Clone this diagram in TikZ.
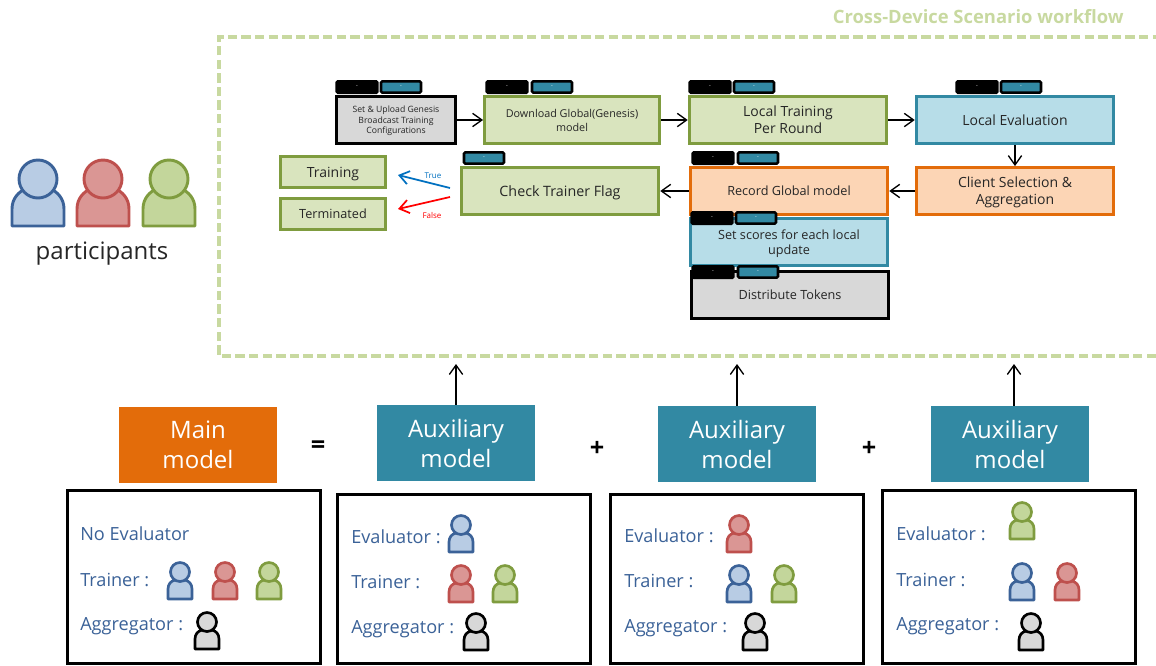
\documentclass[tikz,border=0pt]{standalone}
\usepackage{fontspec}
\setmainfont{Open Sans}
\usetikzlibrary{arrows.meta}
\definecolor{txtdark}{HTML}{262626}
\definecolor{bluetxt}{HTML}{3B6298}
\definecolor{flowgreen}{HTML}{7F9C3F}
\definecolor{fillgreen}{HTML}{D9E4BE}
\definecolor{flowteal}{HTML}{3289A3}
\definecolor{fillteal}{HTML}{B7DDE8}
\definecolor{floworange}{HTML}{E36C0A}
\definecolor{fillorange}{HTML}{FCD5B5}
\definecolor{fillgray}{HTML}{D8D8D8}
\definecolor{framegreen}{HTML}{C8D9A0}
\definecolor{personblue}{HTML}{3B6298}
\definecolor{personbluefill}{HTML}{B8CCE4}
\definecolor{personred}{HTML}{BE504D}
\definecolor{personredfill}{HTML}{DA9694}
\definecolor{persongreen}{HTML}{7F9C3F}
\definecolor{persongreenfill}{HTML}{C3D69B}
\tikzset{
	stepbox/.style={draw, line width=2.4pt, text=txtdark, align=center, inner sep=0pt, text depth=0pt, font=\fontsize{10.5}{12.5}\selectfont},
	greenbox/.style={stepbox, draw=flowgreen, fill=fillgreen},
	tealbox/.style={stepbox, draw=flowteal, fill=fillteal},
	orangebox/.style={stepbox, draw=floworange, fill=fillorange},
	graybox/.style={stepbox, draw=black, fill=fillgray},
	blacktab/.style={draw=black, fill=black, text=white, line width=1.5pt, rounded corners=1pt, minimum width=31pt, minimum height=9pt, inner sep=0pt, font=\fontsize{4}{4}\selectfont},
	tealtab/.style={blacktab, fill=flowteal, line width=1.9pt, minimum width=30pt, minimum height=8.5pt},
	flow/.style={-{Straight Barb[length=7pt,width=10pt]}, line width=1pt},
	modelbox/.style={text=white, align=center, inner sep=0pt, minimum height=57pt, font=\fontsize{18}{22.5}\selectfont},
	signtext/.style={inner sep=0pt, font=\fontsize{19}{21}\bfseries},
	rolebox/.style={draw=black, fill=white, line width=2.2pt, minimum width=190pt, inner sep=0pt},
	roletext/.style={text=bluetxt, anchor=base west, inner sep=0pt, font=\fontsize{13.6}{15}\selectfont},
	pics/person/.style 2 args={code={
		\draw[draw=#1, fill=#2, line width=2.2pt, line join=round] (-26,47) -- (-26,30) .. controls (-26,19) and (-19,13) .. (-13,10)
			-- (13,10) .. controls (19,13) and (26,19) .. (26,30) -- (26,47) -- cycle;
		\draw[draw=#1, fill=#2, line width=2.2pt] (0,0) circle (19);
	}},
	pics/smallperson/.style 2 args={code={
		\draw[draw=#1, fill=#2, line width=2pt, line join=round] (-12,27) -- (-12,17) .. controls (-12,12) and (-9,9) .. (-5,8)
			-- (5,8) .. controls (9,9) and (12,12) .. (12,17) -- (12,27) -- cycle;
		\draw[draw=#1, fill=#2, line width=2pt] (0,0) circle (9.5);
	}},
}
\begin{document}
\begin{tikzpicture}[x=0.75pt, y=-0.75pt]
	\useasboundingbox (0,0) rectangle (1156,665);
	% workflow frame
	\draw[framegreen, line width=2.8pt, dash pattern=on 7pt off 3.2pt] (1156,356) -- (219,356) -- (219,37) -- (1156,37);
	\node[text=framegreen, anchor=east, inner sep=0pt, font=\fontsize{13.8}{15}\bfseries] (frametitle) at (1124,17) {Cross-Device Scenario workflow};
	% participants
	\pic at (38,179) {person={personblue}{personbluefill}};
	\pic at (103,179) {person={personred}{personredfill}};
	\pic at (169,179) {person={persongreen}{persongreenfill}};
	\node[text=txtdark, inner sep=0pt, font=\fontsize{18}{20}\selectfont] (participants) at (102,254) {participants};
	% workflow boxes
	\node[graybox, minimum width=89pt, minimum height=35pt, font=\fontsize{6.5}{8}\selectfont] (genesis) at (396,120) {Set \& Upload Genesis\\Broadcast Training\\Configurations};
	\node[greenbox, minimum width=131pt, minimum height=35pt, font=\fontsize{8.1}{10.5}\selectfont] (download) at (572,120) {Download Global(Genesis)\\model};
	\node[greenbox, minimum width=148pt, minimum height=35pt] (training) at (788,120) {Local Training\\Per Round};
	\node[tealbox, minimum width=148pt, minimum height=35pt] (evaluation) at (1015,120) {Local Evaluation};
	\node[orangebox, minimum width=148pt, minimum height=35pt] (selection) at (1015,191) {Client Selection \&\\Aggregation};
	\node[orangebox, minimum width=148pt, minimum height=35pt, font=\fontsize{9.5}{11}\selectfont] (record) at (789,191) {Record Global model};
	\node[greenbox, minimum width=148pt, minimum height=35pt, font=\fontsize{10.7}{13}\selectfont] (flag) at (560,191) {Check Trainer Flag};
	\node[greenbox, minimum width=79pt, minimum height=23pt] (train) at (333,172) {Training};
	\node[greenbox, minimum width=79pt, minimum height=23pt, font=\fontsize{9.5}{12}\selectfont] (term) at (333,214) {Terminated};
	\node[tealbox, minimum width=148pt, minimum height=35pt, font=\fontsize{9.5}{11}\selectfont] (scores) at (789,242) {Set scores for each local\\update};
	\node[graybox, minimum width=148pt, minimum height=35pt, font=\fontsize{9.5}{11}\selectfont] (tokens) at (790,295) {Distribute Tokens};
	% tabs on the boxes
	\node[blacktab] (tabaa) at (357,87) {-};
	\node[tealtab] (tabab) at (401,87) {-};
	\node[blacktab] (tabba) at (507,87) {-};
	\node[tealtab] (tabbb) at (552,87) {-};
	\node[blacktab] (tabca) at (710,87) {-};
	\node[tealtab] (tabcb) at (754,87) {-};
	\node[blacktab] (tabda) at (977,87) {-};
	\node[tealtab] (tabdb) at (1021,87) {-};
	\node[tealtab] (tabe) at (484,158) {-};
	\node[blacktab] (tabfa) at (713,158) {-};
	\node[tealtab] (tabfb) at (758,158) {-};
	\node[blacktab] (tabga) at (712,218) {-};
	\node[tealtab] (tabgb) at (756,218) {-};
	\node[blacktab] (tabha) at (713,272) {-};
	\node[tealtab] (tabhb) at (758,272) {-};
	% flow
	\draw[flow] (genesis) -- (download);
	\draw[flow] (download) -- (training);
	\draw[flow] (training) -- (evaluation);
	\draw[flow] (evaluation) -- (selection);
	\draw[flow] (selection) -- (record);
	\draw[flow] (record) -- (flag);
	\coordinate (truefrom) at (450,188);
	\coordinate (trueto) at (398,175);
	\coordinate (falsefrom) at (450,197);
	\coordinate (falseto) at (398,209);
	\draw[flow, line width=1.3pt, draw={rgb,255:red,0;green,112;blue,192}] (truefrom) -- (trueto);
	\draw[flow, line width=1.3pt, draw=red] (falsefrom) -- (falseto);
	\node[text={rgb,255:red,0;green,112;blue,192}, inner sep=0pt, font=\fontsize{6}{7}\selectfont] (truelabel) at (433,176) {True};
	\node[text=red, inner sep=0pt, font=\fontsize{6}{7}\selectfont] (falselabel) at (432,215) {False};
	% models
	\node[modelbox, fill=floworange, minimum width=119pt] (main) at (198,445) {Main\\model};
	\node[modelbox, fill=flowteal, minimum width=119pt] (auxa) at (456,443) {Auxiliary\\model};
	\node[modelbox, fill=flowteal, minimum width=119pt] (auxb) at (737,444) {Auxiliary\\model};
	\node[modelbox, fill=flowteal, minimum width=119pt] (auxc) at (1010,444) {Auxiliary\\model};
	\node[signtext] (eq) at (318,447) {=};
	\node[signtext] (pla) at (597,449) {+};
	\node[signtext] (plb) at (869,449) {+};
	\coordinate (upa) at (456,364);
	\coordinate (upb) at (737,364);
	\coordinate (upc) at (1014,364);
	\draw[flow] (auxa) -- (upa);
	\draw[flow] (auxb) -- (upb);
	\draw[flow] (upc |- auxc.north) -- (upc);
	% role boxes
	\node[rolebox, minimum height=130pt] (rolea) at (194,577) {};
	\node[rolebox, minimum height=127pt] (roleb) at (464,579) {};
	\node[rolebox, minimum height=127pt] (rolec) at (737,579) {};
	\node[rolebox, minimum height=130pt] (roled) at (1009,577) {};
	\node[roletext] (noeval) at (80,540) {No Evaluator};
	\node[roletext] (traina) at (80,586) {Trainer :};
	\node[roletext] (aggra) at (80,630) {Aggregator :};
	\pic at (180,572) {smallperson={personblue}{personbluefill}};
	\pic at (225,572) {smallperson={personred}{personredfill}};
	\pic at (269,572) {smallperson={persongreen}{persongreenfill}};
	\pic at (207,622) {smallperson={black}{fillgray}};
	\node[roletext] (evalb) at (351,543) {Evaluator :};
	\node[roletext] (trainb) at (351,588) {Trainer :};
	\node[roletext] (aggrb) at (351,633) {Aggregator :};
	\pic at (461,525) {smallperson={personblue}{personbluefill}};
	\pic at (461,575) {smallperson={personred}{personredfill}};
	\pic at (505,575) {smallperson={persongreen}{persongreenfill}};
	\pic at (476,623) {smallperson={black}{fillgray}};
	\node[roletext] (evalc) at (624,542) {Evaluator :};
	\node[roletext] (trainc) at (624,587) {Trainer :};
	\node[roletext] (aggrc) at (624,632) {Aggregator :};
	\pic at (739,525) {smallperson={personred}{personredfill}};
	\pic at (739,575) {smallperson={personblue}{personbluefill}};
	\pic at (784,575) {smallperson={persongreen}{persongreenfill}};
	\pic at (755,623) {smallperson={black}{fillgray}};
	\node[roletext] (evald) at (896,540) {Evaluator :};
	\node[roletext] (traind) at (896,586) {Trainer :};
	\node[roletext] (aggrd) at (896,630) {Aggregator :};
	\pic at (1022,512) {smallperson={persongreen}{persongreenfill}};
	\pic at (1022,573) {smallperson={personblue}{personbluefill}};
	\pic at (1067,573) {smallperson={personred}{personredfill}};
	\pic at (1031,623) {smallperson={black}{fillgray}};
\end{tikzpicture}
\end{document}
